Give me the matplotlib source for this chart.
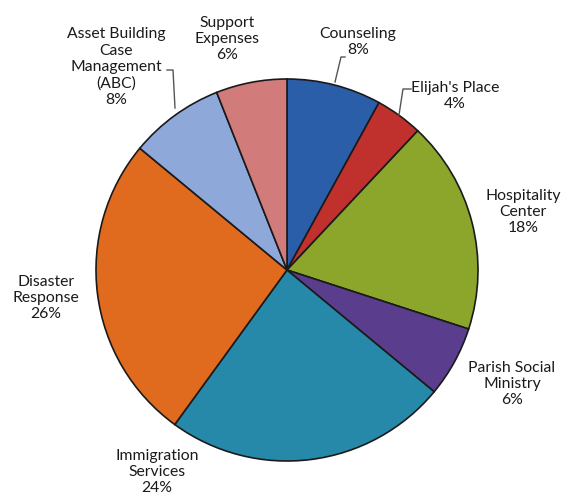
import matplotlib.pyplot as plt

# budget shares, clockwise from 12 o'clock
labels = ["Counseling", "Elijah's Place", "Hospitality\nCenter", "Parish Social\nMinistry",
          "Immigration\nServices", "Disaster\nResponse", "Asset Building\nCase\nManagement\n(ABC)",
          "Support\nExpenses"]
shares = [8, 4, 18, 6, 24, 26, 8, 6]
colors = ["#2A5EA8", "#C0302C", "#8CA62C", "#5B3D8E", "#2789AA", "#E06A1E", "#8FA8DA", "#D27B7B"]

# label centres in pixel coords (x from left, y from top)
label_pos = [(358, 42), (455, 96), (523, 212), (512, 384),
             (157, 472), (46, 298), (116, 67), (227, 39)]

W, H = 574, 499
fig = plt.figure(figsize=(W / 100, H / 100), dpi=100)
ax = fig.add_axes([0, 0, 1, 1])

cx, cy, r = 287, H - 270, 191
ax.pie(shares, colors=colors, startangle=90, counterclock=False,
       center=(cx, cy), radius=r, frame=True,
       wedgeprops=dict(edgecolor="#1a1a1a", linewidth=1.2))
ax.set_xlim(0, W)
ax.set_ylim(0, H)
ax.set_aspect("equal")
ax.axis("off")

for lab, v, (x, y) in zip(labels, shares, label_pos):
    ax.text(x, H - y, f"{lab}\n{v}%", ha="center", va="center",
            fontsize=11.3, family="Lato", color="#1a1a1a", linespacing=1.2)

# leader lines
leaders = [
    [(167, 70), (173, 70), (175, 108)],
    [(345, 57), (341, 57), (335, 82)],
    [(411, 89), (403, 89), (399, 115)],
]
for pts in leaders:
    xs = [p[0] for p in pts]
    ys = [H - p[1] for p in pts]
    ax.plot(xs, ys, color="#555555", linewidth=1)

fig.savefig("out.png", dpi=100)
